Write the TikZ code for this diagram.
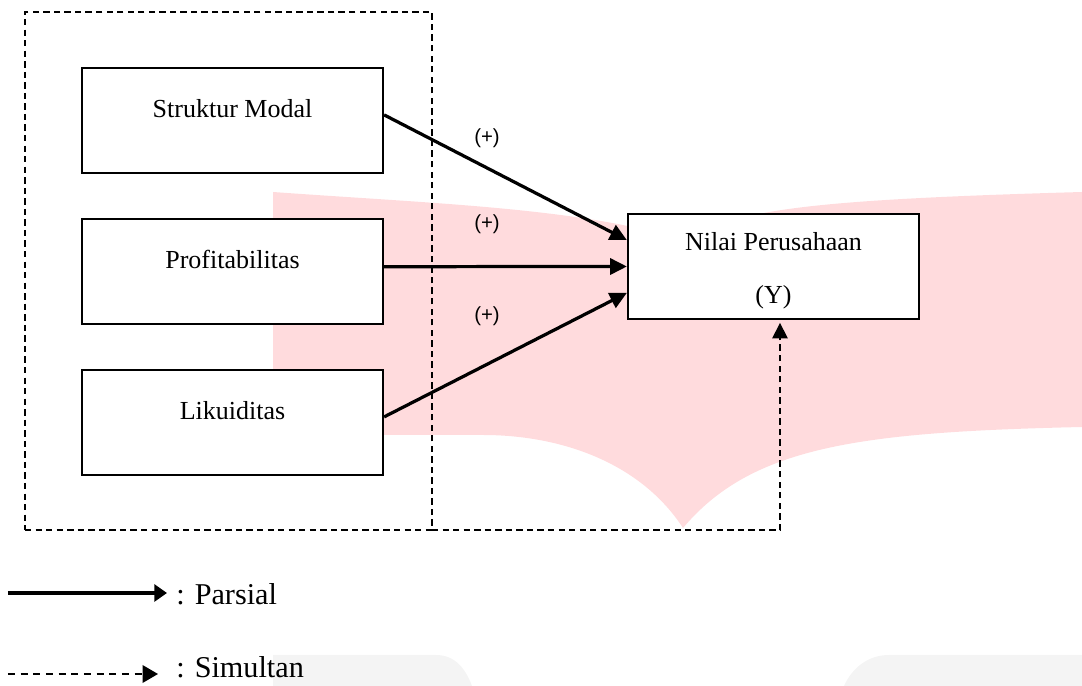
\documentclass[tikz,border=0pt]{standalone}
\usepackage{fontspec}
\setmainfont{Liberation Serif}
\newfontfamily\fontplus{Liberation Sans}
\usepackage{tikz}
\usetikzlibrary{positioning,arrows.meta}
\definecolor{merahmuda}{RGB}{255,219,221}
\definecolor{abutipis}{RGB}{244,244,244}

\begin{document}
\begin{tikzpicture}[x=1cm, y=1cm,
  kotak/.style={rectangle, draw, fill=white, line width=1.6pt, minimum width=7.525cm, minimum height=2.625cm,
                inner sep=0pt, font=\fontsize{18.5}{22}\selectfont, text height=12pt, text depth=16pt},
  grup/.style={rectangle, draw, line width=1.1pt, dash pattern=on 4.5pt off 3pt, inner sep=0pt, outer sep=0pt,
               minimum width=10.175cm, minimum height=12.95cm},
  panah/.style={-{Triangle[length=12pt, width=11.5pt]}, line width=2.3pt},
  panahputus/.style={-{Triangle[length=11pt, width=11pt]}, line width=1.1pt, dash pattern=on 4.5pt off 3pt},
  tanda/.style={font=\fontplus\fontsize{14.5}{17}\selectfont},
  ket/.style={anchor=base west, inner sep=0pt, font=\fontsize{21.5}{26}\selectfont}]

\useasboundingbox (0,0) rectangle (27.05,17.15);

% latar (logo samar)
\fill[merahmuda] (6.825,12.35) .. controls (11,12.05) and (14.5,11.95) .. (17.075,11.15)
  .. controls (18.5,11.9) and (20,12.15) .. (27.05,12.35) -- (27.05,6.475)
  .. controls (21.5,6.35) and (18.8,6.0) .. (17.075,3.95)
  .. controls (16,5.6) and (14,6.275) .. (12.075,6.275) -- (6.825,6.275) -- cycle;
\fill[abutipis] (6.825,0) -- (6.825,0.775) -- (10.9,0.775) .. controls (11.4,0.775) and (11.65,0.4) .. (11.8,0) -- cycle;
\fill[abutipis] (21.1,0) .. controls (21.3,0.45) and (21.7,0.775) .. (22.225,0.775) -- (27.05,0.775) -- (27.05,0) -- cycle;

% variabel X dan Y
\node[grup] (grp) at (5.7125, 10.375) {};
\node[kotak] (sm) at (5.8125, 14.1375) {Struktur Modal};
\node[kotak] (pr) at (5.8125, 10.3625) {Profitabilitas};
\node[kotak] (lk) at (5.8125, 6.5875) {Likuiditas};
\node[kotak, minimum width=7.275cm, align=center, text height=56pt, text depth=4pt] (nl) at (19.3375, 10.4875)
  {Nilai Perusahaan\\[15.7pt] (Y)};

% pengaruh parsial
\draw[panah] ([yshift=0.14cm]sm.east) -- ([yshift=0.66cm]nl.west);
\draw[panah] ([yshift=0.12cm]pr.east) -- (nl.west);
\draw[panah] ([yshift=0.14cm]lk.east) -- ([yshift=-0.66cm]nl.west);
\node[tanda] (t1) at (12.175, 13.7) {(+)};
\node[tanda] (t2) at (12.175, 11.55) {(+)};
\node[tanda] (t3) at (12.175, 9.25) {(+)};

% pengaruh simultan
\draw[panahputus, shorten >=2pt] (grp.south east) -| ([xshift=0.1625cm]nl.south);

% keterangan
\coordinate (pa) at (0.2, 2.325);
\coordinate (pb) at (4.175, 2.325);
\draw[-{Triangle[length=9pt, width=12pt]}, line width=2.4pt] (pa) -- (pb);
\node[ket] (kp) at (4.4, 2.025) {: Parsial};
\coordinate (sa) at (0.2, 0.3);
\coordinate (sb) at (3.95, 0.3);
\draw[-{Triangle[length=11pt, width=12.5pt]}, line width=1.2pt, dash pattern=on 5pt off 4pt] (sa) -- (sb);
\node[ket] (ks) at (4.4, 0.2) {: Simultan};

\end{tikzpicture}
\end{document}
